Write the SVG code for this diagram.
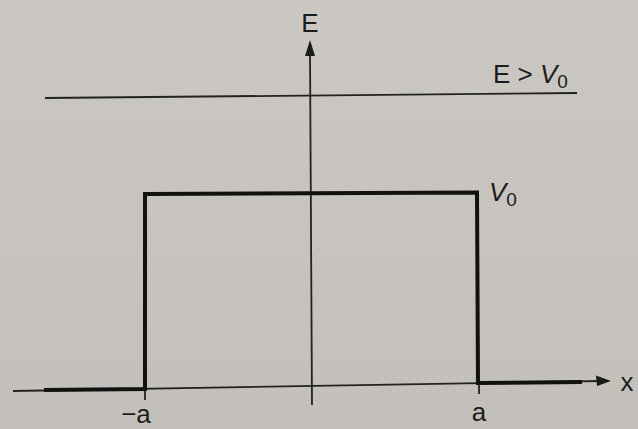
<svg xmlns="http://www.w3.org/2000/svg" width="638" height="429" viewBox="0 0 638 429">
<defs>
<linearGradient id="bg" x1="0" y1="0" x2="0" y2="1">
<stop offset="0" stop-color="#cbc8c4"/>
<stop offset="1" stop-color="#c3bfba"/>
</linearGradient>
<style>
.thin{stroke:#222;stroke-width:1.8;fill:none}
.thick{stroke:#111;stroke-width:4;fill:none;stroke-linejoin:miter}
.lbl{font-family:"Liberation Sans",Arial,sans-serif;fill:#1c1c1c;font-size:26px}
.it{font-style:italic}
</style>
</defs>
<rect width="638" height="429" fill="url(#bg)"/>
<g id="connectors">
<line class="thin" x1="13" y1="391" x2="600" y2="381"/>
<polygon points="611,381 596,375.5 597,386" fill="#1a1a1a"/>
<line class="thin" x1="312" y1="405" x2="310" y2="52"/>
<polygon points="310,40 305,56 315,56" fill="#1a1a1a"/>
<line class="thin" x1="45" y1="98" x2="577" y2="93"/>
<line class="thin" x1="145" y1="389" x2="145" y2="400"/>
<line class="thin" x1="479" y1="383" x2="479" y2="394"/>
</g>
<g id="barrier">
<polyline class="thick" points="44,390 145,389 145,194 477,192.5 478,383 582,382"/>
</g>
<g id="labels">
<text class="lbl" x="310" y="32" text-anchor="middle">E</text>
<text class="lbl" x="627" y="391" text-anchor="middle">x</text>
<text class="lbl" x="479" y="421" text-anchor="middle">a</text>
<text class="lbl" x="136" y="423" text-anchor="middle">−a</text>
<text class="lbl" x="493" y="83">E &gt; <tspan class="it">V</tspan><tspan font-size="19" dy="5">0</tspan></text>
<text class="lbl" x="489" y="201"><tspan class="it">V</tspan><tspan font-size="19" dy="5">0</tspan></text>
</g>
</svg>
